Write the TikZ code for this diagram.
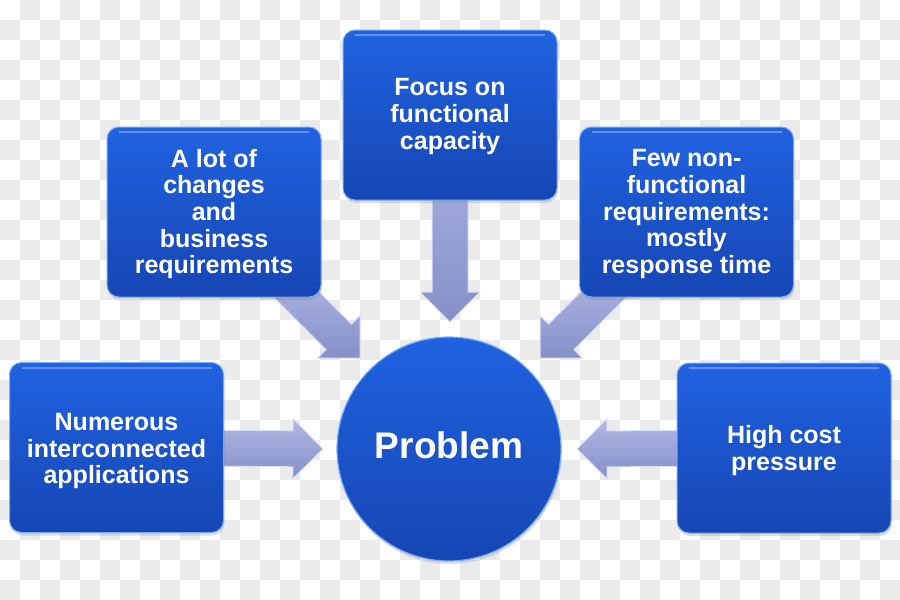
\documentclass[tikz,border=0pt]{standalone}
\usepackage{fontspec}
\setmainfont{Liberation Sans}
\usetikzlibrary{calc,shadows}
\pgfdeclarelayer{bg}
\pgfsetlayers{bg,main}
\definecolor{boxtop}{RGB}{32,98,224}
\definecolor{boxbot}{RGB}{22,70,180}
\definecolor{boxrim}{RGB}{120,170,248}
\definecolor{arrtop}{RGB}{176,183,228}
\definecolor{arrbot}{RGB}{134,144,200}
\definecolor{arrrim}{RGB}{218,222,246}
\definecolor{chk}{RGB}{235,235,235}
\tikzset{
  bluebox/.style={rectangle, rounded corners=12pt, minimum width=214pt, minimum height=170pt,
    inner sep=0pt, top color=boxtop, bottom color=boxbot, draw=boxrim, line width=1pt,
    path picture={\draw[white,opacity=0.3,line width=2pt]
      ([xshift=12pt,yshift=-5pt]path picture bounding box.north west) --
      ([xshift=-12pt,yshift=-5pt]path picture bounding box.north east);},
    drop shadow={opacity=0.25,shadow xshift=1pt,shadow yshift=-3pt}},
  boxtext/.style={inner sep=0pt, text=white, align=center, font=\bfseries\fontsize{25}{26.7}\selectfont},
  hub/.style={circle, minimum size=224pt, inner sep=0pt, top color=boxtop, bottom color=boxbot,
    draw=boxrim, line width=1.2pt, text=white, font=\bfseries\fontsize{37}{40}\selectfont,
    text height=27pt, text depth=8pt,
    drop shadow={opacity=0.25,shadow xshift=1pt,shadow yshift=-3pt}},
  blockarrow/.style={top color=arrtop, bottom color=arrbot, draw=arrrim, line width=1pt, line join=miter}
}
\newcommand\blockarr[2]{%
  \path ($(#2)!30pt!(#1)$) coordinate (H);
  \path[blockarrow] ($(#1)!18pt!90:(#2)$) -- ($(H)!18pt!90:(#2)$) -- ($(H)!30pt!90:(#2)$) -- (#2)
    -- ($(H)!30pt!-90:(#2)$) -- ($(H)!18pt!-90:(#2)$) -- ($(#1)!18pt!-90:(#2)$) -- cycle;
}
\begin{document}
\begin{tikzpicture}[x=1pt,y=-1pt]
\useasboundingbox (0,0) rectangle (900,600);
% boxes
\node[bluebox] (tc) at (450,115) {};
\node[bluebox] (tl) at (214,212) {};
\node[bluebox] (tr) at (686.5,212) {};
\node[bluebox] (l) at (116.5,447.5) {};
\node[bluebox] (r) at (784,448) {};
\node[hub] (p) at (449,449) {Problem};
% texts
\node[boxtext] (tct) at ([yshift=-1.5pt]tc.center) {Focus on\\functional\\capacity};
\node[boxtext] (tlt) at ([yshift=-2pt]tl.center) {A lot of\\changes\\and\\business\\requirements};
\node[boxtext] (trt) at ([yshift=-2pt]tr.center) {Few non-\\functional\\requirements:\\mostly\\response time};
\node[boxtext] (lt) at ([yshift=-3.5pt]l.center) {Numerous\\interconnected\\applications};
\node[boxtext] (rt) at ([yshift=-2.5pt]r.center) {High cost\\pressure};
% connector end points
\coordinate (tipL) at (323,449);
\coordinate (tipR) at (577,449);
\coordinate (tipT) at (450,322);
\coordinate (tipTL) at (360,358);
\coordinate (tipTR) at (540,358);
\begin{pgfonlayer}{bg}
  \foreach \i in {0,...,44}{
    \foreach \j in {0,...,29}{
      \pgfmathtruncatemacro\chkodd{mod(\i+\j,2)}
      \ifnum\chkodd=1 \fill[chk] (\i*20,\j*20) rectangle ++(20,20); \fi
    }
  }
  \blockarr{l.center}{tipL}
  \blockarr{r.center}{tipR}
  \blockarr{tc.center}{tipT}
  \path ($(tipTL)+(-75,-75)$) coordinate (sTL);
  \path ($(tipTR)+(75,-75)$) coordinate (sTR);
  \blockarr{sTL}{tipTL}
  \blockarr{sTR}{tipTR}
\end{pgfonlayer}
\end{tikzpicture}
\end{document}
